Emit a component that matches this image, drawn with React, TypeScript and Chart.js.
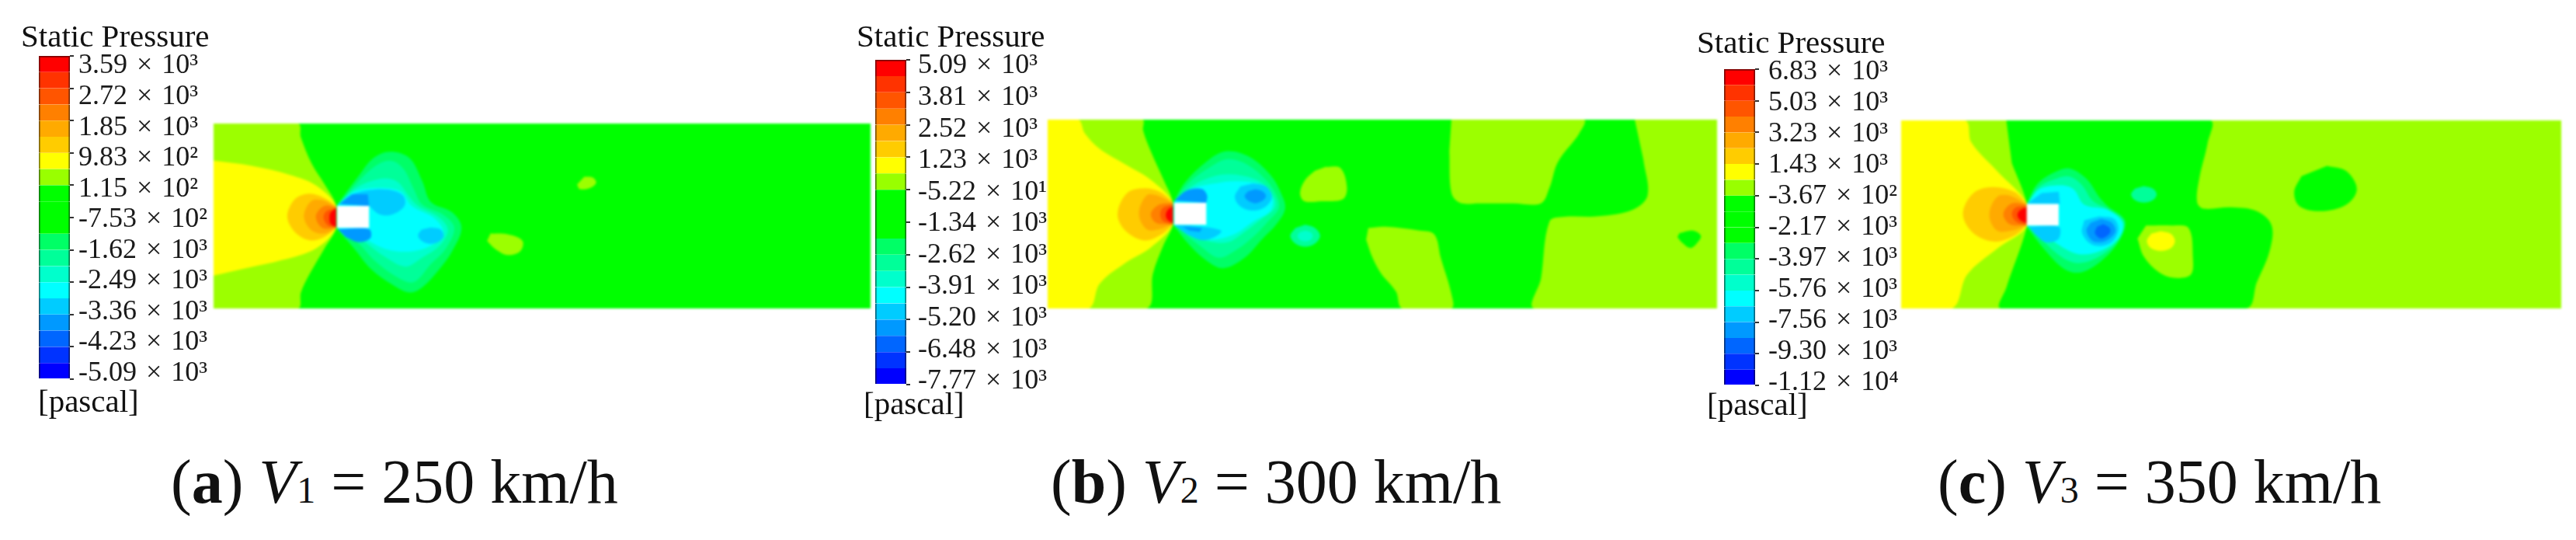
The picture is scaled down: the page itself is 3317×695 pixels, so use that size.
import { useEffect, useRef } from 'react';
import { Chart, registerables } from 'chart.js';

Chart.register(...registerables);

const SERIF = '"Liberation Serif", serif';

type Pt = [number, number];

// colour bands of the legend, top to bottom
const bandColors = [
  '#ff0000', '#ff3300', '#ff5500', '#ff8000', '#ffaa00', '#ffcc00', '#ffff00', '#99ff00', '#00ff00', '#00ff00',
  '#00ff00', '#00ff66', '#00ff99', '#00ffcc', '#00ffff', '#00ccff', '#0099ff', '#0066ff', '#0033ff', '#0000ff',
];
const bandEdgeColors = [
  '#800000', '#801a00', '#802b00', '#804000', '#805500', '#806600', '#808000', '#4d8000', '#008000', '#008000',
  '#008000', '#008033', '#00804d', '#008066', '#008080', '#006680', '#004d80', '#003380', '#001a80', '#000080',
];

const tickLabelsA = [
  '3.59 \u200A× \u200A10³', '2.72 \u200A× \u200A10³', '1.85 \u200A× \u200A10³', '9.83 \u200A× \u200A10²', '1.15 \u200A× \u200A10²', '-7.53 \u200A× \u200A10²',
  '-1.62 \u200A× \u200A10³', '-2.49 \u200A× \u200A10³', '-3.36 \u200A× \u200A10³', '-4.23 \u200A× \u200A10³', '-5.09 \u200A× \u200A10³',
];
const tickLabelsB = [
  '5.09 \u200A× \u200A10³', '3.81 \u200A× \u200A10³', '2.52 \u200A× \u200A10³', '1.23 \u200A× \u200A10³', '-5.22 \u200A× \u200A10¹', '-1.34 \u200A× \u200A10³',
  '-2.62 \u200A× \u200A10³', '-3.91 \u200A× \u200A10³', '-5.20 \u200A× \u200A10³', '-6.48 \u200A× \u200A10³', '-7.77 \u200A× \u200A10³',
];
const tickLabelsC = [
  '6.83 \u200A× \u200A10³', '5.03 \u200A× \u200A10³', '3.23 \u200A× \u200A10³', '1.43 \u200A× \u200A10³', '-3.67 \u200A× \u200A10²', '-2.17 \u200A× \u200A10³',
  '-3.97 \u200A× \u200A10³', '-5.76 \u200A× \u200A10³', '-7.56 \u200A× \u200A10³', '-9.30 \u200A× \u200A10³', '-1.12 \u200A× \u200A10⁴',
];
const tickLevels = [0, 2, 4, 6, 8, 10, 12, 14, 16, 18, 20];

// contour outlines per case in domain units
const aDomain: Pt[] = [[10, 26], [1552, 26], [1552, 742], [10, 742]];
const aLime: Pt[] = [[10, 26], [208, 26], [215, 80], [240, 180], [270, 260], [298, 345], [298, 430], [270, 510], [235, 610], [215, 680], [208, 742], [10, 742]];
const aYellow: Pt[] = [[10, 170], [100, 190], [190, 225], [250, 265], [298, 345], [298, 430], [250, 510], [170, 555], [90, 585], [10, 615]];
const aOrange1: Pt[] = [[298, 345], [265, 310], [230, 298], [200, 320], [183, 385], [200, 445], [235, 478], [270, 465], [298, 430]];
const aOrange2: Pt[] = [[298, 350], [270, 325], [240, 325], [222, 385], [240, 440], [270, 452], [298, 430]];
const aOrange3: Pt[] = [[298, 350], [270, 345], [250, 385], [265, 430], [298, 430]];
const aOrange4: Pt[] = [[298, 355], [275, 365], [268, 390], [278, 420], [298, 428]];
const aRed: Pt[] = [[300, 350], [285, 370], [282, 390], [285, 415], [300, 428]];
const aMint1: Pt[] = [[298, 345], [350, 230], [385, 160], [425, 135], [470, 160], [500, 250], [520, 330], [570, 370], [592, 430], [570, 520], [540, 590], [500, 660], [470, 680], [430, 650], [380, 590], [340, 510], [298, 432]];
const aMint2: Pt[] = [[302, 340], [350, 250], [390, 190], [425, 170], [455, 200], [480, 280], [500, 340], [550, 380], [575, 430], [555, 510], [520, 570], [480, 640], [440, 620], [390, 560], [350, 490], [302, 430]];
const aMint3: Pt[] = [[302, 340], [345, 275], [400, 240], [440, 250], [470, 310], [490, 345], [540, 390], [560, 440], [540, 500], [500, 545], [460, 580], [410, 540], [360, 480], [302, 430]];
const aCyan: Pt[] = [[302, 340], [340, 290], [400, 275], [450, 290], [475, 345], [530, 395], [550, 450], [530, 490], [480, 520], [420, 515], [360, 470], [302, 432]];
const aSkyTop: Pt[] = [[305, 338], [330, 305], [370, 285], [420, 282], [455, 305], [458, 345], [430, 378], [400, 378], [375, 345]];
const aSkySpot: Pt[] = [[520, 428], [542, 435], [550, 460], [540, 482], [520, 492], [500, 482], [490, 460], [498, 437]];
const aBlueTop: Pt[] = [[305, 338], [335, 300], [372, 300], [375, 345]];
const aBlueLow: Pt[] = [[302, 435], [375, 435], [378, 470], [350, 485], [320, 465]];
const aLimeSpot1: Pt[] = [[880, 232], [900, 235], [908, 255], [895, 275], [870, 280], [863, 262]];
const aLimeSpot2: Pt[] = [[660, 452], [700, 455], [735, 480], [730, 520], [700, 535], [670, 510], [652, 480]];
const aBody: Pt[] = [[300, 345], [375, 345], [375, 430], [300, 430]];

const bDomain: Pt[] = [[8, 28], [1578, 28], [1578, 755], [8, 755]];
const bLime: Pt[] = [[8, 28], [230, 28], [232, 70], [250, 150], [280, 260], [302, 348], [302, 432], [280, 510], [255, 620], [240, 755], [8, 755]];
const bYellow: Pt[] = [[8, 28], [80, 28], [95, 80], [130, 140], [190, 200], [250, 260], [302, 348], [302, 432], [250, 520], [190, 580], [130, 660], [105, 755], [8, 755]];
const bOrange1: Pt[] = [[302, 345], [270, 305], [235, 292], [195, 310], [172, 390], [190, 455], [235, 493], [275, 470], [302, 432]];
const bOrange2: Pt[] = [[302, 350], [265, 320], [240, 320], [222, 390], [240, 450], [270, 450], [302, 430]];
const bOrange3: Pt[] = [[302, 350], [270, 355], [250, 390], [262, 425], [302, 432]];
const bOrange4: Pt[] = [[302, 355], [278, 368], [272, 395], [280, 420], [302, 430]];
const bRed: Pt[] = [[304, 360], [290, 375], [285, 395], [290, 415], [304, 428]];
const bMint1: Pt[] = [[302, 348], [330, 270], [380, 190], [425, 150], [480, 170], [530, 240], [555, 310], [565, 370], [545, 430], [510, 490], [470, 560], [420, 600], [380, 570], [340, 510], [302, 432]];
const bMint2: Pt[] = [[304, 345], [340, 270], [390, 210], [430, 180], [475, 200], [520, 260], [545, 320], [550, 370], [525, 420], [490, 480], [450, 530], [410, 560], [370, 520], [304, 432]];
const bMint3: Pt[] = [[304, 345], [345, 285], [400, 245], [450, 240], [510, 270], [540, 330], [540, 370], [510, 410], [470, 460], [430, 500], [380, 495], [340, 470], [304, 432]];
const bCyan: Pt[] = [[304, 345], [345, 295], [395, 275], [450, 265], [510, 280], [535, 330], [530, 380], [490, 420], [445, 470], [390, 490], [345, 470], [304, 432]];
const bSkySpot: Pt[] = [[490, 273], [520, 285], [534, 325], [520, 362], [490, 378], [460, 362], [447, 325], [460, 285]];
const bBlueSpot: Pt[] = [[495, 296], [512, 304], [520, 322], [512, 340], [495, 350], [478, 340], [470, 322], [478, 304]];
const bBlueTop: Pt[] = [[305, 340], [335, 300], [370, 295], [382, 320], [380, 348]];
const bSkyLow: Pt[] = [[305, 435], [350, 437], [415, 455], [400, 480], [370, 492], [335, 470]];
const bBlueLow: Pt[] = [[325, 440], [370, 445], [365, 460], [340, 455]];
const bMintSpot: Pt[] = [[612, 433], [635, 445], [647, 475], [635, 505], [612, 517], [589, 505], [577, 475], [589, 445]];
const bMintCore: Pt[] = [[612, 455], [625, 462], [630, 475], [625, 490], [612, 497], [599, 490], [594, 475], [599, 462]];
const bLimeIsland: Pt[] = [[660, 210], [695, 215], [710, 290], [700, 335], [650, 342], [610, 342], [600, 310], [612, 260], [635, 225]];
const bLimeUpper: Pt[] = [[955, 28], [1265, 28], [1255, 80], [1205, 190], [1185, 290], [1165, 350], [1100, 350], [1020, 350], [975, 348], [955, 310], [950, 150]];
const bLimeLower: Pt[] = [[760, 445], [800, 440], [880, 455], [915, 470], [930, 560], [955, 700], [955, 755], [840, 755], [825, 690], [790, 620], [770, 560], [755, 490]];
const bLimeRight: Pt[] = [[1385, 28], [1578, 28], [1578, 755], [1150, 755], [1165, 640], [1185, 420], [1220, 402], [1300, 400], [1380, 375], [1415, 320], [1405, 180]];
const bGreenSpot: Pt[] = [[1490, 465], [1520, 455], [1540, 475], [1530, 505], [1515, 522], [1495, 500], [1485, 480]];
const bBody: Pt[] = [[305, 348], [380, 348], [380, 433], [305, 433]];

const cDomain: Pt[] = [[15, 15], [1565, 15], [1565, 740], [15, 740]];
const cGreen: Pt[] = [[262, 15], [740, 15], [735, 100], [715, 240], [710, 330], [725, 355], [790, 350], [850, 365], [885, 420], [880, 520], [850, 640], [825, 740], [250, 740], [262, 660], [310, 425], [310, 335], [275, 180]];
const cGreenSpot: Pt[] = [[1015, 190], [1060, 210], [1085, 280], [1060, 340], [1000, 365], [950, 345], [938, 290], [955, 230]];
const cYellow: Pt[] = [[15, 15], [165, 15], [180, 100], [240, 210], [310, 335], [310, 425], [240, 510], [170, 610], [135, 740], [15, 740]];
const cOrange1: Pt[] = [[310, 335], [280, 290], [230, 272], [185, 295], [160, 375], [185, 450], [235, 482], [280, 460], [310, 420]];
const cOrange2: Pt[] = [[310, 340], [270, 305], [240, 310], [222, 380], [240, 440], [275, 440], [310, 420]];
const cOrange3: Pt[] = [[310, 340], [275, 335], [255, 375], [270, 415], [310, 420]];
const cOrange4: Pt[] = [[310, 345], [285, 350], [275, 375], [285, 405], [310, 418]];
const cRed: Pt[] = [[312, 350], [295, 360], [288, 380], [295, 400], [312, 412]];
const cMint1: Pt[] = [[310, 335], [335, 260], [375, 215], [410, 200], [450, 240], [480, 310], [500, 345], [540, 400], [530, 470], [490, 550], [440, 600], [400, 590], [350, 510], [310, 425]];
const cMint2: Pt[] = [[311, 335], [338, 272], [382, 238], [412, 232], [440, 265], [465, 325], [505, 360], [538, 405], [528, 470], [485, 535], [435, 565], [395, 545], [345, 475], [311, 424]];
const cCyan: Pt[] = [[312, 335], [340, 280], [390, 265], [420, 280], [445, 340], [500, 360], [535, 410], [525, 470], [480, 520], [430, 530], [380, 490], [340, 440], [312, 422]];
const cSkyTop: Pt[] = [[312, 335], [345, 295], [385, 290], [388, 337]];
const cSkyLow: Pt[] = [[315, 425], [385, 425], [385, 470], [355, 485], [330, 455]];
const cSkySpot: Pt[] = [[480, 385], [515, 395], [525, 440], [505, 490], [465, 495], [440, 450], [445, 400]];
const cBlueSpot: Pt[] = [[485, 395], [510, 410], [518, 445], [495, 480], [465, 480], [450, 440], [460, 410]];
const cDeepSpot: Pt[] = [[490, 415], [505, 430], [505, 450], [485, 470], [470, 450], [475, 425]];
const cMintSpot: Pt[] = [[585, 268], [606, 278], [615, 300], [606, 322], [585, 332], [564, 322], [555, 300], [564, 278]];
const cLimeIsland: Pt[] = [[590, 420], [650, 420], [690, 430], [700, 540], [695, 610], [655, 622], [620, 600], [585, 540], [570, 470]];
const cYellowSpot: Pt[] = [[625, 442], [648, 452], [658, 480], [648, 508], [625, 518], [602, 508], [592, 480], [602, 452]];
const cBody: Pt[] = [[310, 337], [385, 337], [385, 420], [310, 420]];

const LIME = '#9cff00';
const GREEN = '#00ff00';
const WHITE = '#ffffff';

// painted in this order, last on top: [colour, outline]
const contoursA: [string, Pt[]][] = [
  [GREEN, aDomain], [LIME, aLime], ['#ffff00', aYellow], ['#ffcc00', aOrange1], ['#ffaa00', aOrange2], ['#ff8000', aOrange3],
  ['#ff5500', aOrange4], ['#ff0000', aRed], ['#00ff66', aMint1], ['#00ff99', aMint2], ['#00ffcc', aMint3], ['#00ffff', aCyan],
  ['#00ccff', aSkyTop], ['#00ccff', aSkySpot], ['#0099ff', aBlueTop], ['#0099ff', aBlueLow], [LIME, aLimeSpot1], [LIME, aLimeSpot2], [WHITE, aBody],
];
const contoursB: [string, Pt[]][] = [
  [GREEN, bDomain], [LIME, bLime], ['#ffff00', bYellow], ['#ffcc00', bOrange1], ['#ffaa00', bOrange2], ['#ff8000', bOrange3],
  ['#ff5500', bOrange4], ['#ff0000', bRed], ['#00ff66', bMint1], ['#00ff99', bMint2], ['#00ffcc', bMint3], ['#00ffff', bCyan],
  ['#00ccff', bSkySpot], ['#0099ff', bBlueSpot], ['#0099ff', bBlueTop], ['#00ccff', bSkyLow], ['#0099ff', bBlueLow],
  ['#00ff99', bMintSpot], ['#00ffcc', bMintCore], [LIME, bLimeIsland], [LIME, bLimeUpper], [LIME, bLimeLower], [LIME, bLimeRight], [GREEN, bGreenSpot], [WHITE, bBody],
];
const contoursC: [string, Pt[]][] = [
  [LIME, cDomain], [GREEN, cGreen], [GREEN, cGreenSpot], ['#ffff00', cYellow], ['#ffcc00', cOrange1], ['#ffaa00', cOrange2], ['#ff8000', cOrange3],
  ['#ff5500', cOrange4], ['#ff0000', cRed], ['#00ff66', cMint1], ['#00ffaa', cMint2], ['#00ffff', cCyan],
  ['#00ccff', cSkyTop], ['#00ccff', cSkyLow], ['#00ccff', cSkySpot], ['#0099ff', cBlueSpot], ['#0066ff', cDeepSpot], ['#00ff99', cMintSpot],
  [LIME, cLimeIsland], ['#ffff00', cYellowSpot], [WHITE, cBody],
];

function ContourPlot({ left, top, right, bottom, domain, contours }: { left: number; top: number; right: number; bottom: number; domain: Pt[]; contours: [string, Pt[]][] }) {
  const ref = useRef<HTMLCanvasElement>(null);

  useEffect(() => {
    if (!ref.current) return;
    // first dataset is drawn last, so flip the painting order
    const datasets = contours.slice().reverse().map(([color, pts], i, all) => ({
      data: pts.map(([x, y]) => ({ x, y })),
      backgroundColor: color,
      fill: 'shape',
      borderWidth: 0,
      pointRadius: 0,
      // the domain and the body are plain rectangles
      tension: i === 0 || i === all.length - 1 || pts.length === 4 ? 0 : 0.35,
    }));
    const chart = new Chart(ref.current, {
      type: 'line',
      data: { datasets: datasets as any },
      options: {
        indexAxis: 'y',
        responsive: false,
        animation: false,
        events: [],
        layout: { padding: 0 },
        plugins: { legend: { display: false }, tooltip: { enabled: false } },
        scales: {
          x: { type: 'linear', display: false, min: domain[0][0], max: domain[1][0] },
          y: { type: 'linear', display: false, reverse: true, min: domain[0][1], max: domain[2][1] },
        },
      },
    });
    return () => chart.destroy();
  }, [domain, contours]);

  return (
    <canvas
      ref={ref}
      width={right - left}
      height={bottom - top}
      style={{ position: 'absolute', left, top, width: right - left, height: bottom - top, filter: 'blur(1.8px)' }}
    />
  );
}

const BAR_W = 40;
const TICK_W = 5;
const LABEL_W = 190;
const PAD = 12;

function ColorBar({ left, top, bottom, labels, labelMin, labelMax, labelPad }: { left: number; top: number; bottom: number; labels: string[]; labelMin: number; labelMax: number; labelPad: number }) {
  const ref = useRef<HTMLCanvasElement>(null);

  useEffect(() => {
    if (!ref.current) return;
    const n = bandColors.length;
    // bottom band first so the stack grows up to red
    const datasets = bandColors.map((_, i) => ({
      data: [1],
      backgroundColor: bandColors[n - 1 - i],
      borderColor: bandEdgeColors[n - 1 - i],
      borderWidth: { left: 2, right: 2, top: i === n - 1 ? 2 : 0, bottom: 0 },
      borderSkipped: false,
      barPercentage: 1,
      categoryPercentage: 1,
    }));
    const noPadding = (s: any) => {
      s.paddingTop = 0;
      s.paddingBottom = 0;
      s.paddingLeft = 0;
      s.paddingRight = 0;
    };
    const chart = new Chart(ref.current, {
      type: 'bar',
      data: { labels: ['pressure'], datasets: datasets as any },
      options: {
        responsive: false,
        animation: false,
        events: [],
        layout: { padding: { top: PAD, bottom: PAD, left: 0, right: 0 } },
        plugins: { legend: { display: false }, tooltip: { enabled: false } },
        scales: {
          x: { stacked: true, display: false },
          y: {
            stacked: true,
            position: 'right',
            min: 0,
            max: n,
            afterBuildTicks: (s: any) => { s.ticks = tickLevels.map((value) => ({ value })); },
            afterFit: (s: any) => { s.width = TICK_W; noPadding(s); },
            border: { display: false },
            grid: { drawOnChartArea: false, drawTicks: true, tickLength: TICK_W, color: '#333333', lineWidth: 2 },
            ticks: { display: false },
          },
          labelAxis: {
            type: 'linear',
            position: 'right',
            min: labelMin,
            max: labelMax,
            afterBuildTicks: (s: any) => { s.ticks = tickLevels.map((value) => ({ value })); },
            afterFit: (s: any) => { s.width = LABEL_W; noPadding(s); },
            border: { display: false },
            grid: { display: false },
            ticks: {
              autoSkip: false,
              padding: labelPad,
              color: '#1a1a1a',
              font: { family: SERIF, size: 36 },
              callback: (v: any) => labels[(n - Number(v)) / 2],
            },
          },
        },
      },
    });
    return () => chart.destroy();
  }, [labels, labelMin, labelMax, labelPad]);

  const h = bottom - top + PAD * 2;
  const w = BAR_W + TICK_W + LABEL_W;
  return (
    <canvas
      ref={ref}
      width={w}
      height={h}
      style={{ position: 'absolute', left, top: top - PAD, width: w, height: h, filter: 'blur(0.6px)' }}
    />
  );
}

function Text({ x, baseline, size, soft, children }: { x: number; baseline: number; size: number; soft?: boolean; children: any }) {
  return (
    <div
      style={{
        position: 'absolute',
        left: x,
        top: baseline - size * 0.8375,
        fontFamily: SERIF,
        fontSize: size,
        lineHeight: 1,
        whiteSpace: 'pre',
        color: '#111111',
        filter: soft ? 'blur(0.6px)' : undefined,
      }}
    >
      {children}
    </div>
  );
}

function Caption({ x, letter, sub, speed }: { x: number; letter: string; sub: string; speed: string }) {
  return (
    <Text x={x} baseline={647} size={80}>
      (<b>{letter}</b>) <i>V</i>
      <span style={{ fontSize: '60%' }}>{sub}</span> = {speed} km/h
    </Text>
  );
}

export default function App() {
  return (
    <div style={{ position: 'absolute', left: 0, top: 0, width: 3317, height: 695, background: '#ffffff', overflow: 'hidden' }}>
      <ContourPlot left={275} top={159} right={1121} bottom={397} domain={aDomain} contours={contoursA} />
      <ContourPlot left={1349} top={154} right={2211} bottom={397} domain={bDomain} contours={contoursB} />
      <ContourPlot left={2448} top={155} right={3298} bottom={397} domain={cDomain} contours={contoursC} />

      <ColorBar left={50} top={72} bottom={488} labels={tickLabelsA} labelMin={-0.4} labelMax={20.66} labelPad={-2} />
      <ColorBar left={1127} top={77} bottom={495} labels={tickLabelsB} labelMin={-0.21} labelMax={20.39} labelPad={2} />
      <ColorBar left={2220} top={89} bottom={496} labels={tickLabelsC} labelMin={-0.15} labelMax={20.2} labelPad={4} />

      <Text x={27} baseline={60} size={41} soft>Static Pressure</Text>
      <Text x={1103} baseline={60} size={41} soft>Static Pressure</Text>
      <Text x={2185} baseline={68} size={41} soft>Static Pressure</Text>
      <Text x={49} baseline={530} size={41} soft>[pascal]</Text>
      <Text x={1112} baseline={533} size={41} soft>[pascal]</Text>
      <Text x={2198} baseline={534} size={41} soft>[pascal]</Text>

      <Caption x={220} letter="a" sub="1" speed="250" />
      <Caption x={1353} letter="b" sub="2" speed="300" />
      <Caption x={2495} letter="c" sub="3" speed="350" />
    </div>
  );
}
